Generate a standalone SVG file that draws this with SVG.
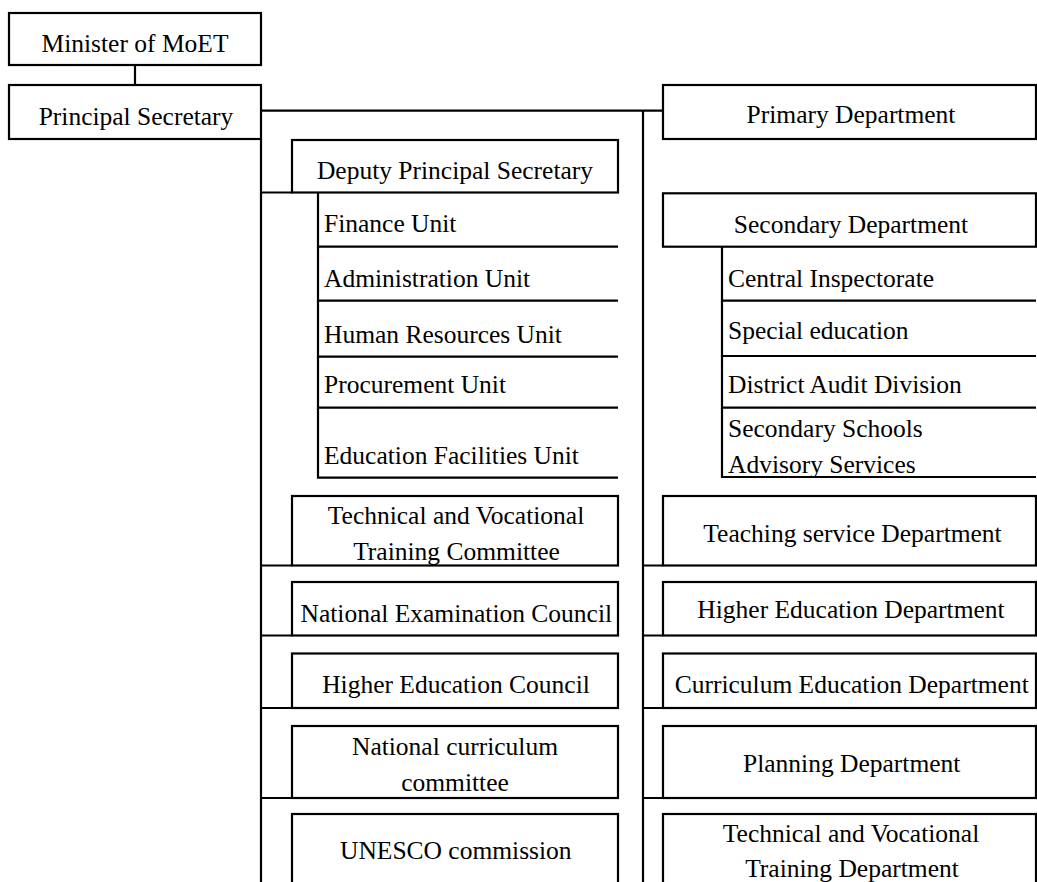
<svg xmlns="http://www.w3.org/2000/svg" width="1037" height="882" viewBox="0 0 1037 882">
  <style>
    .box { fill: #fff; stroke: #000; stroke-width: 2.2; }
    .edge { fill: none; stroke: #000; stroke-width: 2.2; }
    .link { fill: none; stroke: #000; stroke-width: 2.2; }
    text { font-family: "Liberation Serif", "Times New Roman", serif; font-size: 25.5px; fill: #000; }
    .c { text-anchor: middle; }
  </style>
  <rect width="1037" height="882" fill="#fff"/>

  <!-- connectors -->
  <g id="connectors">
    <path class="link" d="M135 65 V85"/>
    <path class="link" d="M261 110.7 H663"/>
    <path class="link" d="M261 139 V882"/>
    <path class="link" d="M643 110.7 V882"/>
    <path class="link" d="M261 192.5 H292 M261 565.5 H292 M261 635.5 H292 M261 708 H292 M261 798 H292"/>
    <path class="link" d="M643 565.5 H663 M643 635.5 H663 M643 708 H663 M643 798 H663"/>
  </g>

  <!-- top level -->
  <g id="minister">
    <rect class="box" x="9" y="13" width="252" height="52"/>
    <text class="c" x="135" y="52">Minister of MoET</text>
  </g>
  <g id="principal-secretary">
    <rect class="box" x="9" y="85" width="252" height="54"/>
    <text class="c" x="136" y="125">Principal Secretary</text>
  </g>

  <!-- left column -->
  <g id="deputy-principal-secretary">
    <rect class="box" x="292" y="140" width="326" height="52.5"/>
    <text class="c" x="455" y="179">Deputy Principal Secretary</text>
  </g>
  <g id="finance-unit">
    <path class="edge" d="M318 192.5 V246.7 H618"/>
    <text x="324" y="231.7">Finance Unit</text>
  </g>
  <g id="administration-unit">
    <path class="edge" d="M318 246.7 V300.7 H618"/>
    <text x="324" y="286.7">Administration Unit</text>
  </g>
  <g id="human-resources-unit">
    <path class="edge" d="M318 300.7 V356.7 H618"/>
    <text x="324" y="342.7">Human Resources Unit</text>
  </g>
  <g id="procurement-unit">
    <path class="edge" d="M318 356.7 V407.7 H618"/>
    <text x="324" y="392.7">Procurement Unit</text>
  </g>
  <g id="education-facilities-unit">
    <path class="edge" d="M318 407.7 V477.7 H618"/>
    <text x="324" y="464">Education Facilities Unit</text>
  </g>
  <g id="tv-training-committee">
    <rect class="box" x="292" y="496" width="326" height="69.5"/>
    <text class="c" x="456" y="524">Technical and Vocational</text>
    <text class="c" x="456.5" y="560">Training Committee</text>
  </g>
  <g id="national-examination-council">
    <rect class="box" x="292" y="582" width="326" height="53.5"/>
    <text class="c" x="456.3" y="621.7">National Examination Council</text>
  </g>
  <g id="higher-education-council">
    <rect class="box" x="292" y="653.5" width="326" height="54.5"/>
    <text class="c" x="456" y="693.3">Higher Education Council</text>
  </g>
  <g id="national-curriculum-committee">
    <rect class="box" x="292" y="726" width="326" height="72"/>
    <text class="c" x="455" y="755">National curriculum</text>
    <text class="c" x="455" y="790.7">committee</text>
  </g>
  <g id="unesco-commission">
    <rect class="box" x="292" y="814" width="326" height="90"/>
    <text class="c" x="455.8" y="859">UNESCO commission</text>
  </g>

  <!-- right column -->
  <g id="primary-department">
    <rect class="box" x="663" y="85" width="373" height="54"/>
    <text class="c" x="851" y="122.7">Primary Department</text>
  </g>
  <g id="secondary-department">
    <rect class="box" x="663" y="193.3" width="373" height="53.4"/>
    <text class="c" x="851" y="232.7">Secondary Department</text>
  </g>
  <g id="central-inspectorate">
    <path class="edge" d="M722 246.7 V300.7 H1036"/>
    <text x="728" y="286.7">Central Inspectorate</text>
  </g>
  <g id="special-education">
    <path class="edge" d="M722 300.7 V356 H1036"/>
    <text x="728" y="339.3">Special education</text>
  </g>
  <g id="district-audit-division">
    <path class="edge" d="M722 356 V407.7 H1036"/>
    <text x="728" y="393.3">District Audit Division</text>
  </g>
  <g id="secondary-schools-advisory">
    <path class="edge" d="M722 407.7 V477 H1036"/>
    <text x="728" y="436.7">Secondary Schools</text>
    <text x="728" y="472.7">Advisory Services</text>
  </g>
  <g id="teaching-service-department">
    <rect class="box" x="663" y="496" width="373" height="69.5"/>
    <text class="c" x="852.5" y="541.7">Teaching service Department</text>
  </g>
  <g id="higher-education-department">
    <rect class="box" x="663" y="582" width="373" height="53.5"/>
    <text class="c" x="851" y="618.3">Higher Education Department</text>
  </g>
  <g id="curriculum-education-department">
    <rect class="box" x="663" y="653.5" width="373" height="54.5"/>
    <text class="c" x="851.7" y="693.3">Curriculum Education Department</text>
  </g>
  <g id="planning-department">
    <rect class="box" x="663" y="726" width="373" height="72"/>
    <text class="c" x="851.7" y="771.7">Planning Department</text>
  </g>
  <g id="tv-training-department">
    <rect class="box" x="663" y="814" width="373" height="90"/>
    <text class="c" x="851" y="841.7">Technical and Vocational</text>
    <text class="c" x="852" y="876.7">Training Department</text>
  </g>
</svg>
